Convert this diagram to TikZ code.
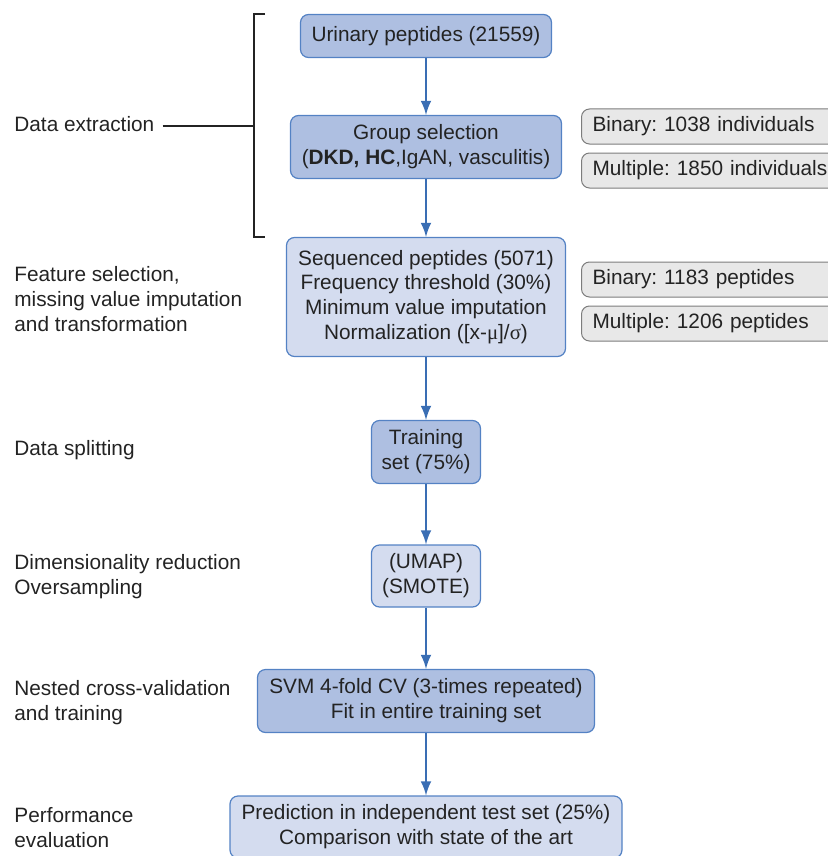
\documentclass[tikz,border=0pt]{standalone}
\usepackage{fontspec}
\setmainfont{Liberation Sans}
\newfontfamily\greekserif{Liberation Serif}
\usetikzlibrary{arrows,positioning}
\definecolor{boxdark}{RGB}{174,191,225}
\definecolor{boxlight}{RGB}{212,220,239}
\definecolor{boxline}{RGB}{84,130,196}
\definecolor{arrowblue}{RGB}{58,110,180}
\definecolor{greyfill}{RGB}{232,232,232}
\definecolor{greyline}{RGB}{125,125,125}
\definecolor{inkgrey}{RGB}{35,35,35}
\tikzstyle{stage}=[draw=boxline,fill=boxdark,rounded corners=4pt,line width=0.6pt,align=center,inner sep=0pt,text=inkgrey]
\tikzstyle{stagelight}=[stage,fill=boxlight]
\tikzstyle{count}=[draw=greyline,fill=greyfill,rounded corners=4pt,line width=0.5pt,anchor=west,align=left,text width=125pt,inner xsep=5.5pt,inner ysep=0pt,minimum height=17.5pt,text=inkgrey]
\tikzstyle{phase}=[anchor=west,align=left,inner sep=0pt,text=inkgrey]
\tikzstyle{flow}=[-latex,arrowblue,line width=1.4pt]

\begin{document}
\frenchspacing
\begin{tikzpicture}[x=0.5pt,y=-0.5pt,font=\fontsize{10.4}{12.4}\selectfont]
\useasboundingbox (0,0) rectangle (828,856);
\draw (426,36) node [stage,minimum width=125.5pt,minimum height=21.5pt] (urine) {Urinary peptides (21559)};
\draw (426,147) node [stage,minimum width=135.5pt,minimum height=31.5pt] (group) {Group selection\\(\textbf{DKD, HC},IgAN, vasculitis)};
\draw (426,297) node [stagelight,minimum width=139.5pt,minimum height=59.5pt] (feat) {Sequenced peptides (5071)\\Frequency threshold (30\%)\\Minimum value imputation\\Normalization ([x-{\greekserif μ}]/{\greekserif σ})};
\draw (426,452) node [stage,minimum width=54.5pt,minimum height=31.5pt] (train) {Training\\set (75\%)};
\draw (426,576) node [stagelight,minimum width=54.5pt,minimum height=31pt] (umap) {(UMAP)\\(SMOTE)};
\draw (426,701) node [stage,minimum width=168.5pt,minimum height=31.5pt] (svm) {SVM 4-fold CV (3-times repeated)\\\hspace{10pt}Fit in entire training set};
\draw (426,827) node [stagelight,minimum width=196pt,minimum height=31pt] (test) {Prediction in independent test set (25\%)\\Comparison with state of the art};
% side counts
\draw (581,126.5) node [count] (bin1) {Binary: 1038 individuals};
\draw (581,170.5) node [count] (mul1) {Multiple: 1850 individuals};
\draw (581,279.5) node [count] (bin2) {Binary: 1183 peptides};
\draw (581,323.5) node [count] (mul2) {Multiple: 1206 peptides};
% left phases
\draw (14,124) node [phase] (extr) {Data extraction};
\draw (14,299) node [phase] (fsel) {Feature selection,\\missing value imputation\\and transformation};
\draw (14,450) node [phase] (split) {Data splitting};
\draw (14,576.5) node [phase] (dimred) {Dimensionality reduction\\Oversampling};
\draw (14,702.5) node [phase] (nested) {Nested cross-validation\\and training};
\draw (14,827.5) node [phase] (perf) {Performance\\evaluation};
% bracket
\coordinate (brk) at (254,126);
\draw[inkgrey,line width=0.6pt] (265,14) -- (254,14) -- (254,237) -- (265,237);
\draw[inkgrey,line width=0.6pt] ([xshift=4pt]extr.east |- brk) -- (brk);
% flow
\draw[flow] (urine) -- (group);
\draw[flow] (group) -- (feat);
\draw[flow] (feat) -- (train);
\draw[flow] (train) -- (umap);
\draw[flow] (umap) -- (svm);
\draw[flow] (svm) -- (test);
\end{tikzpicture}
\end{document}
